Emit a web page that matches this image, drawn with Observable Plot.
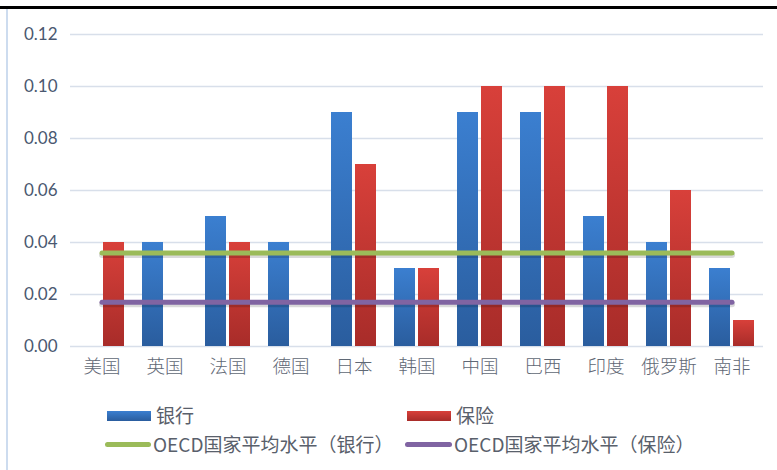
<!DOCTYPE html>
<html><head><meta charset="utf-8">
<script src="https://cdn.jsdelivr.net/npm/d3@7"></script>
<script src="https://cdn.jsdelivr.net/npm/@observablehq/plot@0.6"></script>
<style>
body{margin:0;background:#fff;}
#wrap{position:relative;width:777px;height:470px;overflow:hidden;background:#fff;font-family:"Noto Sans CJK SC",sans-serif;}
#topline{position:absolute;left:0;top:6px;width:777px;height:3px;background:#000;}
#leftline{position:absolute;left:6px;top:9px;width:2px;height:461px;background:#cddcef;}
#chart{position:absolute;left:0;top:0;}
.lg{position:absolute;font-size:19px;color:#59606b;white-space:nowrap;line-height:22px;}
.sw{position:absolute;}
</style></head>
<body>
<div id="wrap">
  <div id="topline"></div>
  <div id="leftline"></div>
  <div id="chart"></div>
  <div class="sw" style="left:107px;top:411px;width:44px;height:10px;background:linear-gradient(#3b7fd0,#2a5d9e);"></div>
  <div class="lg" style="left:156px;top:404px;">银行</div>
  <div class="sw" style="left:407px;top:411px;width:44px;height:10px;background:linear-gradient(#d8403a,#a82c29);"></div>
  <div class="lg" style="left:456px;top:404px;">保险</div>
  <div class="sw" style="left:105px;top:442px;width:46px;height:5px;border-radius:3px;background:#9bbb59;"></div>
  <div class="lg" style="left:153px;top:433px;">OECD国家平均水平（银行）</div>
  <div class="sw" style="left:405px;top:442px;width:47px;height:5px;border-radius:3px;background:#8064a2;"></div>
  <div class="lg" style="left:454px;top:433px;">OECD国家平均水平（保险）</div>
</div>
<script>
const countries = ["美国","英国","法国","德国","日本","韩国","中国","巴西","印度","俄罗斯","南非"];
const bank      = [null, 0.04, 0.05, 0.04, 0.09, 0.03, 0.09, 0.09, 0.05, 0.04, 0.03];
const insurance = [0.04, null, 0.04, null, 0.07, 0.03, 0.10, 0.10, 0.10, 0.06, 0.01];
const oecdBank = 0.036;
const oecdInsurance = 0.017;
const yTicks = [0, 0.02, 0.04, 0.06, 0.08, 0.10, 0.12];

const bankData = countries.map((c, i) => ({c, v: bank[i]})).filter(d => d.v != null);
const insData = countries.map((c, i) => ({c, v: insurance[i]})).filter(d => d.v != null);
const bankLine = countries.map(c => ({c, v: oecdBank}));
const insLine = countries.map(c => ({c, v: oecdInsurance}));

const chart = Plot.plot({
  width: 777,
  height: 392,
  marginTop: 34,
  marginBottom: 46,
  marginLeft: 70,
  marginRight: 14,
  x: {domain: countries, paddingInner: 0.286, paddingOuter: 0.143},
  y: {domain: [0, 0.12]},
  marks: [
    Plot.ruleY(yTicks, {stroke: "#d8dfea", strokeWidth: 1.5}),
    Plot.axisY(yTicks, {tickFormat: d3.format(".2f"), tickSize: 0, tickPadding: 13, fontSize: 17, fontFamily: "Lato", fill: "#4a5870", label: null}),
    Plot.axisX({tickSize: 0, tickPadding: 13, fontSize: 18.5, fontFamily: "Noto Sans CJK SC", fontWeight: 300, fill: "#5f6875", label: null}),
    Plot.barY(bankData, {x: "c", y: "v", fill: "url(#gBlue)", insetRight: 24}),
    Plot.barY(insData, {x: "c", y: "v", fill: "url(#gRed)", insetLeft: 24}),
    Plot.lineY(bankLine, {x: "c", y: "v", stroke: "#000", strokeOpacity: 0.15, strokeWidth: 6, dy: 2, strokeLinecap: "round"}),
    Plot.lineY(bankLine, {x: "c", y: "v", stroke: "#9bbb59", strokeWidth: 5, strokeLinecap: "round"}),
    Plot.lineY(insLine, {x: "c", y: "v", stroke: "#000", strokeOpacity: 0.15, strokeWidth: 6, dy: 2, strokeLinecap: "round"}),
    Plot.lineY(insLine, {x: "c", y: "v", stroke: "#8064a2", strokeWidth: 5, strokeLinecap: "round"})
  ]
});
chart.style.background = "transparent";
const defs = d3.select(chart).insert("defs", ":first-child");
const gb = defs.append("linearGradient").attr("id", "gBlue").attr("x1", 0).attr("y1", 0).attr("x2", 0).attr("y2", 1);
gb.append("stop").attr("offset", "0%").attr("stop-color", "#3b7fd0");
gb.append("stop").attr("offset", "100%").attr("stop-color", "#2a5d9e");
const gr = defs.append("linearGradient").attr("id", "gRed").attr("x1", 0).attr("y1", 0).attr("x2", 0).attr("y2", 1);
gr.append("stop").attr("offset", "0%").attr("stop-color", "#d8403a");
gr.append("stop").attr("offset", "100%").attr("stop-color", "#a82c29");
document.getElementById("chart").appendChild(chart);
</script>
</body></html>
